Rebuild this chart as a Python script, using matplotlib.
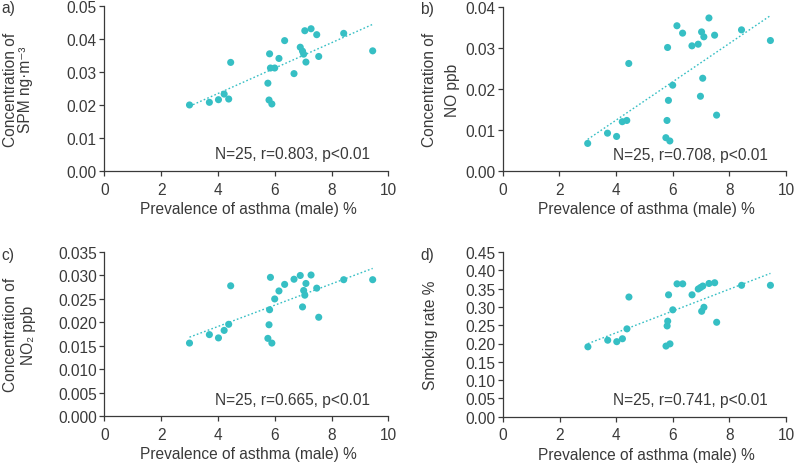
import numpy as np
import matplotlib
matplotlib.use("Agg")
import matplotlib.pyplot as plt

plt.rcParams["font.family"] = ["Liberation Sans", "DejaVu Sans"]

# ── Data ─────────────────────────────────────────────────────────────────────
asthma = [3.0, 3.7, 4.02, 4.22, 4.38, 4.45, 5.76, 5.80, 5.82, 5.85, 5.90, 6.00, 6.15,
          6.35, 6.68, 6.90, 6.98, 7.02, 7.06, 7.10, 7.28, 7.48, 7.55, 8.43, 9.45]

spm = [0.0201, 0.0209, 0.0217, 0.0234, 0.0219, 0.0330, 0.0267, 0.0216, 0.0356, 0.0313,
       0.0204, 0.0313, 0.0342, 0.0396, 0.0296, 0.0376, 0.0364, 0.0355, 0.0426, 0.0331,
       0.0432, 0.0414, 0.0348, 0.0418, 0.0365]
no = [0.0068, 0.0093, 0.0085, 0.0121, 0.0124, 0.0263, 0.0082, 0.0124, 0.0302, 0.0173,
      0.0074, 0.0210, 0.0355, 0.0337, 0.0306, 0.0310, 0.0183, 0.0340, 0.0227, 0.0328,
      0.0374, 0.0332, 0.0137, 0.0345, 0.0319]
no2 = [0.0156, 0.0174, 0.0167, 0.0183, 0.0196, 0.0278, 0.0166, 0.0195, 0.0227, 0.0296,
       0.0156, 0.0250, 0.0267, 0.0281, 0.0292, 0.0300, 0.0233, 0.0268, 0.0258, 0.0283,
       0.0301, 0.0273, 0.0211, 0.0291, 0.0291]
smoking = [0.191, 0.209, 0.205, 0.213, 0.240, 0.327, 0.193, 0.248, 0.261, 0.333,
           0.199, 0.292, 0.363, 0.363, 0.333, 0.349, 0.353, 0.288, 0.357, 0.299,
           0.364, 0.366, 0.258, 0.359, 0.359]

stats = ["N=25, r=0.803, p<0.01", "N=25, r=0.708, p<0.01",
         "N=25, r=0.665, p<0.01", "N=25, r=0.741, p<0.01"]

TEAL = "#36bfc4"
TXT = "#3a3a3a"
FS = 11.2
W, H = 796, 464

fig = plt.figure(figsize=(W / 100, H / 100), dpi=100)

def px_axes(left, top, right, bottom):
    return fig.add_axes([left / W, 1 - bottom / H, (right - left) / W, (bottom - top) / H])

panels = [
    # letter, y data, ylim, yticks, fmt, ylabel, axes box (px), letter pos (px), ylabel x, linespacing
    ("a)", spm, 0.05, np.arange(0, 0.051, 0.01), "{:.2f}",
     "Concentration of\nSPM ng·m⁻³", (104.3, 7.3, 388.3, 172.3), (1.5, 9), -0.251, 1.02),
    ("b)", no, 0.04, np.arange(0, 0.041, 0.01), "{:.2f}",
     "Concentration of\nNO ppb", (502.7, 8.3, 786.0, 172.3), (420.5, 9.5), -0.152, 1.6),
    ("c)", no2, 0.035, np.arange(0, 0.0351, 0.005), "{:.3f}",
     "Concentration of\nNO₂ ppb", (104.3, 253.0, 388.3, 417.3), (1.5, 255.5), -0.239, 1.3),
    ("d)", smoking, 0.45, np.arange(0, 0.451, 0.05), "{:.2f}",
     "Smoking rate %", (503.0, 253.0, 786.0, 417.7), (420.5, 255.5), -0.230, 1.0),
]

x = np.array(asthma)
for i, (letter, yv, ymax, yt, fmt, ylab, box, lpos, ylx, lsp) in enumerate(panels):
    ax = px_axes(*box)
    y = np.array(yv)
    ax.scatter(x, y, s=26, color=TEAL, edgecolors="none", zorder=3, clip_on=False)
    k, b = np.polyfit(x, y, 1)
    xl = np.array([x.min(), x.max()])
    ax.plot(xl, k * xl + b, color=TEAL, lw=1.0, ls=(0, (1.2, 1.6)), zorder=2)

    ax.set_xlim(0, 10)
    ax.set_ylim(0, ymax)
    ax.set_xticks(range(0, 11, 2))
    ax.set_yticks(yt)
    ax.set_yticklabels([fmt.format(v) for v in yt])
    for sp in ("top", "right"):
        ax.spines[sp].set_visible(False)
    for sp in ("left", "bottom"):
        ax.spines[sp].set_color(TXT)
        ax.spines[sp].set_linewidth(0.9)
    ax.tick_params(colors=TXT, labelsize=FS, width=0.9)
    ax.tick_params(axis="x", length=3.6, pad=4.0)
    ax.tick_params(axis="y", length=3.4, pad=2.0)

    ax.set_xlabel("Prevalence of asthma (male) %", fontsize=FS, color=TXT)
    ax.xaxis.set_label_coords(0.507, -0.182)
    ax.set_ylabel(ylab, fontsize=FS, color=TXT, linespacing=lsp)
    ax.yaxis.set_label_coords(ylx, 0.5)

    ax.text(0.935, 0.105, stats[i], transform=ax.transAxes, ha="right", va="center",
            fontsize=FS, color=TXT)
    fig.text(lpos[0] / W, 1 - lpos[1] / H, letter, ha="left", va="center",
             fontsize=FS, color=TXT)

fig.savefig("out.png", dpi=100)
